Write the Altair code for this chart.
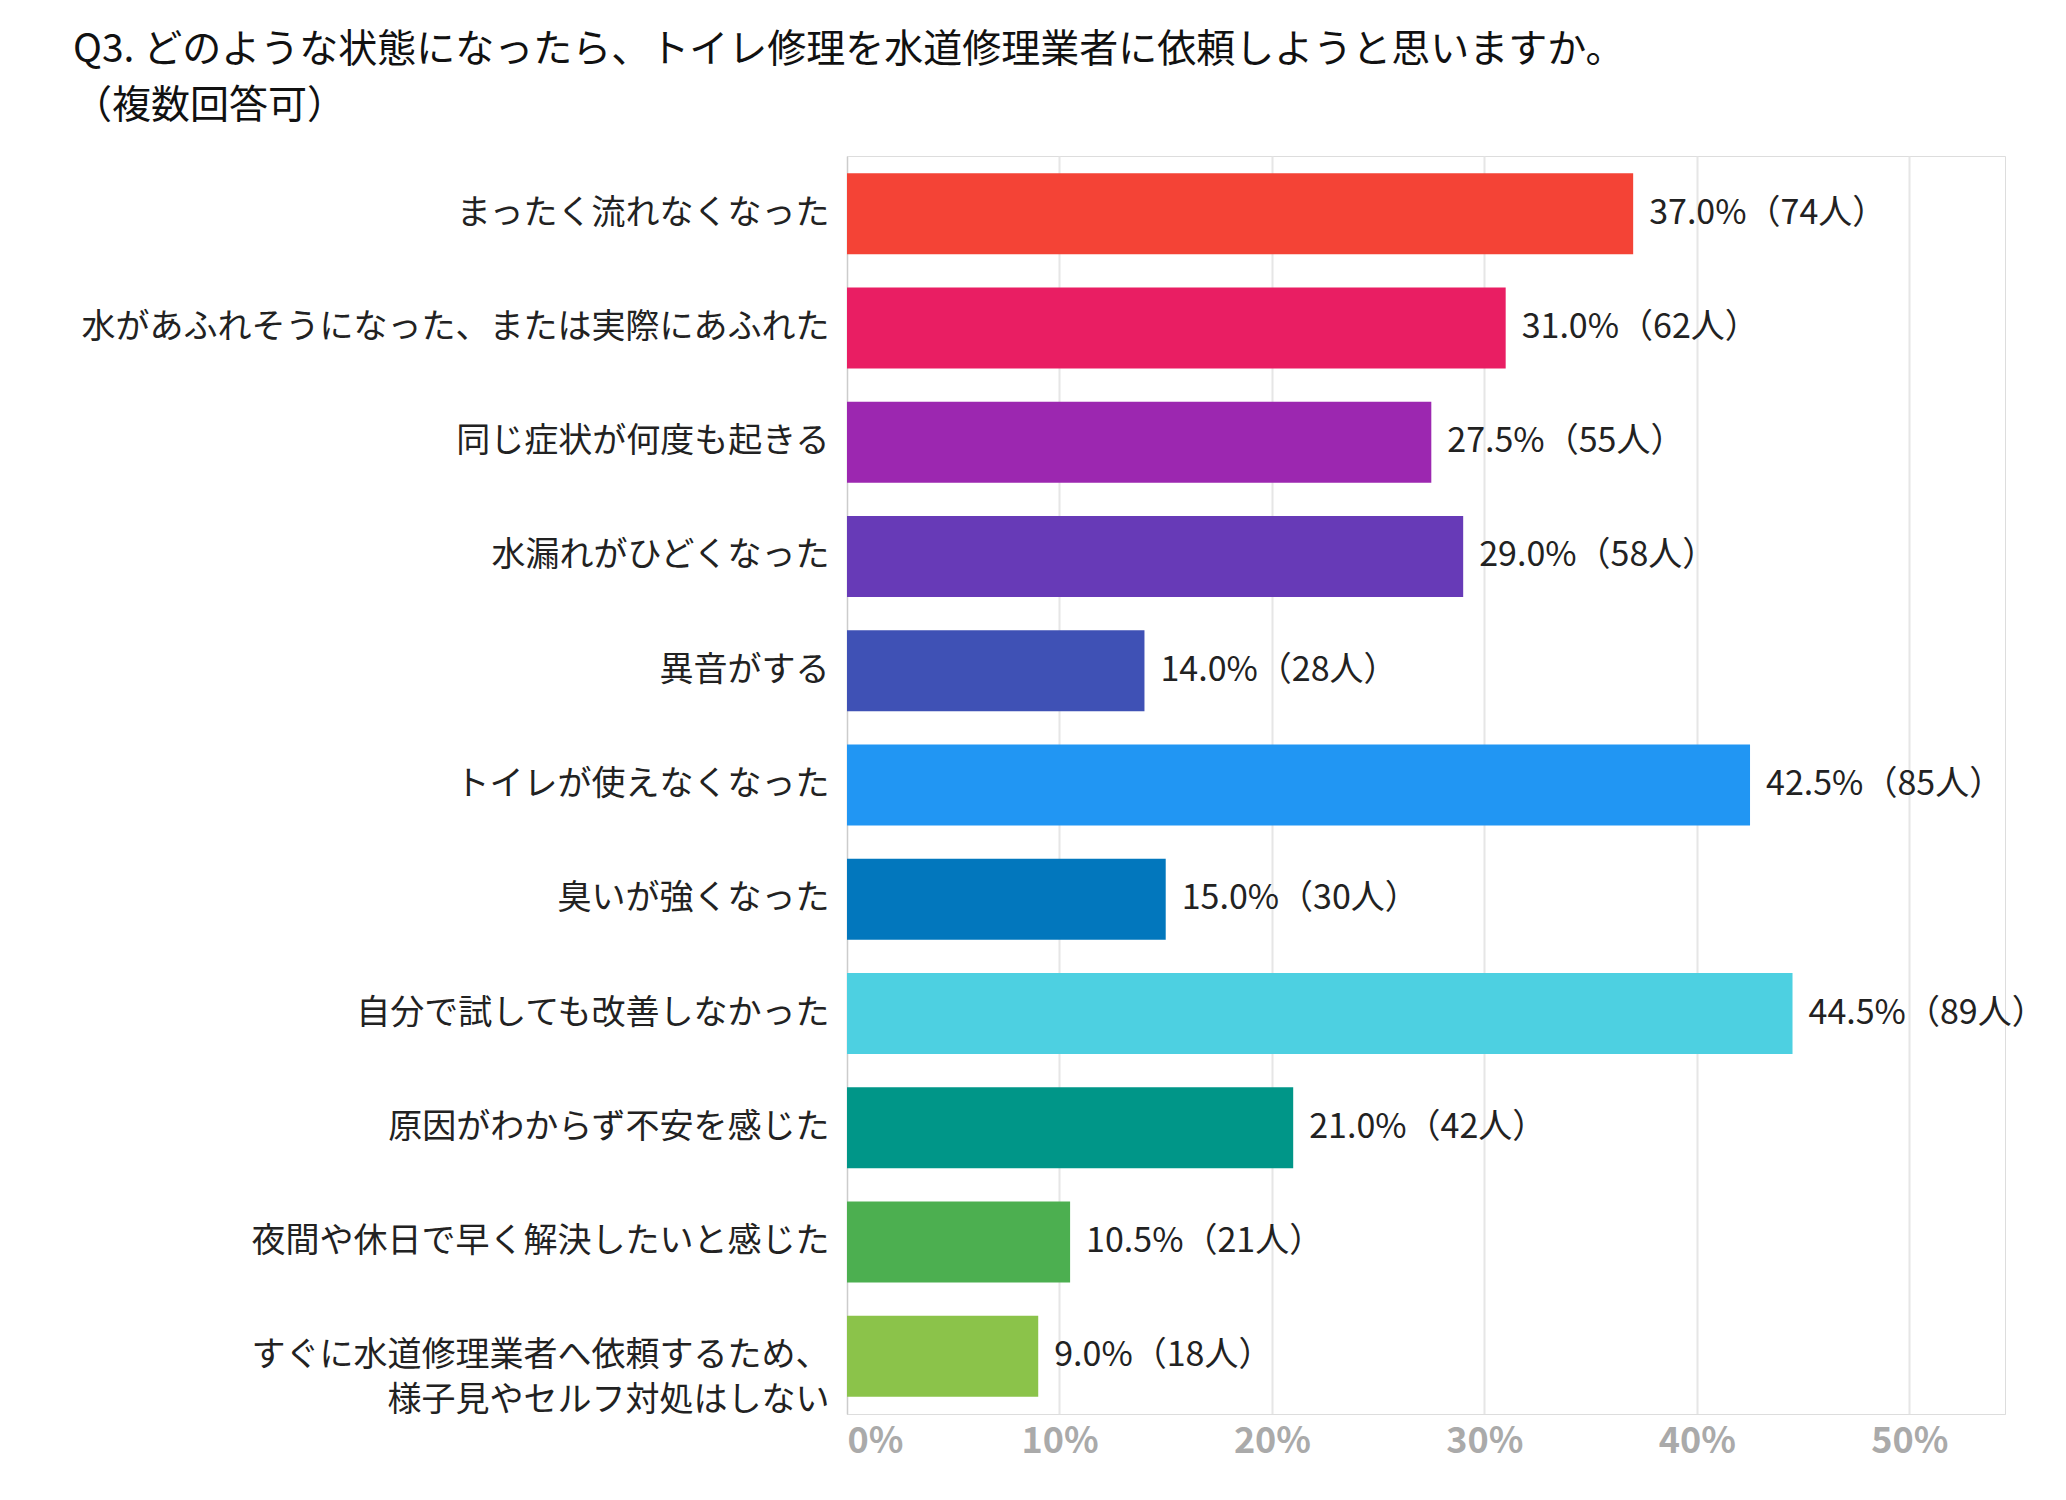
import pandas as pd
import altair as alt

categories = [
    "まったく流れなくなった",
    "水があふれそうになった、または実際にあふれた",
    "同じ症状が何度も起きる",
    "水漏れがひどくなった",
    "異音がする",
    "トイレが使えなくなった",
    "臭いが強くなった",
    "自分で試しても改善しなかった",
    "原因がわからず不安を感じた",
    "夜間や休日で早く解決したいと感じた",
    "すぐに水道修理業者へ依頼するため、\n様子見やセルフ対処はしない",
]
percents = [37.0, 31.0, 27.5, 29.0, 14.0, 42.5, 15.0, 44.5, 21.0, 10.5, 9.0]
counts = [74, 62, 55, 58, 28, 85, 30, 89, 42, 21, 18]
colors = ["#F44336", "#E91E63", "#9C27B0", "#673AB7", "#3F51B5", "#2196F3",
          "#0277BD", "#4DD0E1", "#009688", "#4CAF50", "#8BC34A"]

df = pd.DataFrame({"cat": categories, "pct": percents, "n": counts})
df["label"] = [f"{p:.1f}%（{n}人）" for p, n in zip(percents, counts)]

FONT = "Noto Sans CJK JP"

y_enc = alt.Y("cat:N", sort=categories, title=None,
              scale=alt.Scale(paddingInner=0.29, paddingOuter=0.15),
              axis=alt.Axis(labelFontSize=34, labelColor="#222", labelFont=FONT,
                            labelPadding=18, ticks=False, domainColor="#ccc",
                            labelLimit=1000, labelLineHeight=45,
                            labelExpr="split(datum.label, '\\n')"))

bars = alt.Chart(df).mark_bar().encode(
    x=alt.X("pct:Q", title=None,
            scale=alt.Scale(domain=[0, 54.5], nice=False),
            axis=alt.Axis(values=[0, 10, 20, 30, 40, 50], labelExpr="datum.value + '%'",
                          labelFontSize=36, labelColor="#aaa", labelFontWeight="bold",
                          labelFont=FONT, ticks=False, domainColor="#ddd",
                          gridColor="#e6e6e6", gridWidth=2, labelPadding=10)),
    y=y_enc,
    color=alt.Color("cat:N", sort=categories,
                    scale=alt.Scale(domain=categories, range=colors), legend=None),
)

text = alt.Chart(df).mark_text(align="left", dx=16, fontSize=34, font=FONT,
                               color="#222").encode(
    x="pct:Q", y=alt.Y("cat:N", sort=categories), text="label:N")

chart = (bars + text).properties(
    width=1158, height=1258,
    autosize=alt.AutoSizeParams(type="none"),
    padding={"left": 839, "top": 148, "right": 50, "bottom": 80},
    title=alt.Title(
        text=["Q3. どのような状態になったら、トイレ修理を水道修理業者に依頼しようと思いますか。",
              "　　（複数回答可）"],
        anchor="start", frame="group", dx=-774, offset=30, font=FONT, fontSize=39,
        fontWeight="normal", color="#111", lineHeight=56),
).configure_view(strokeWidth=0).configure(background="white")

chart.save("out.html", embed_options={"renderer": "svg", "actions": False})
